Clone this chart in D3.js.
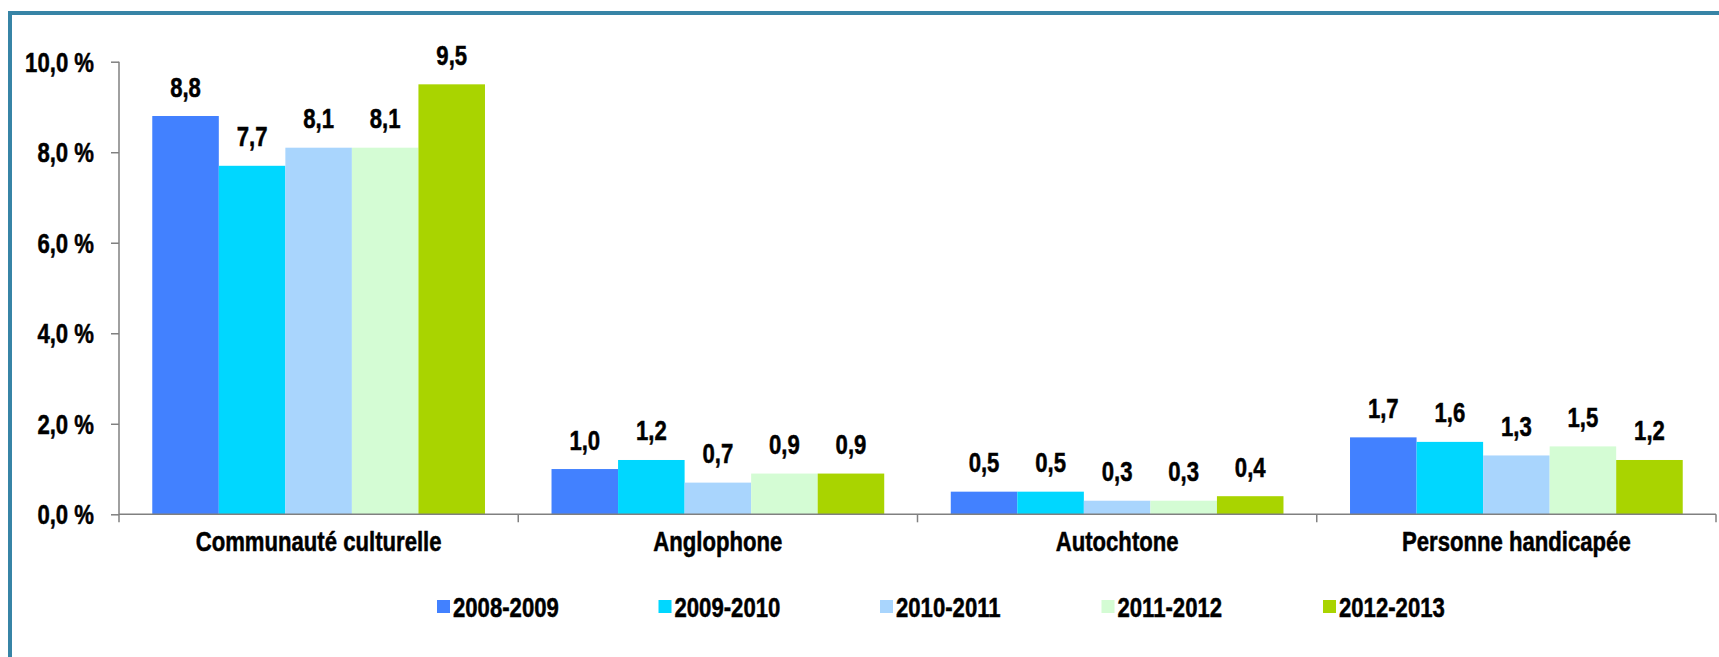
<!DOCTYPE html>
<html lang="fr">
<head>
<meta charset="UTF-8">
<title>Représentation des groupes cibles</title>
<style>
  * { margin: 0; padding: 0; box-sizing: border-box; }
  body { background: #fff; width: 1719px; height: 657px; overflow: hidden; }
  svg { display: block; font-family: 'Liberation Sans', Arial, sans-serif; font-weight: 700; }
  svg text { stroke: #000; stroke-width: 0.5px; }
</style>
</head>
<body>
<svg width="1719" height="657"></svg>
<script src="https://cdn.jsdelivr.net/npm/d3@7/dist/d3.min.js"></script>
<script>
// --- data ---
const categories = ['Communauté culturelle', 'Anglophone', 'Autochtone', 'Personne handicapée'];
const years = ['2008-2009', '2009-2010', '2010-2011', '2011-2012', '2012-2013'];
const values2008 = [8.8, 1.0, 0.5, 1.7];
const values2009 = [7.7, 1.2, 0.5, 1.6];
const values2010 = [8.1, 0.7, 0.3, 1.3];
const values2011 = [8.1, 0.9, 0.3, 1.5];
const values2012 = [9.5, 0.9, 0.4, 1.2];
const yTicks = [0, 2, 4, 6, 8, 10];
const colors = ['#4281ff', '#00d7ff', '#a9d5fd', '#d4fcd4', '#a9d400'];

const series = [values2008, values2009, values2010, values2011, values2012];

const svg = d3.select('svg');
const frFmt = d3.formatLocale({ decimal: ',', thousands: ' ', grouping: [3], currency: ['', ' $'] });
const f1 = frFmt.format('.1f');
const NARROW = 0.82; // fake "Arial Narrow" by squeezing Liberation Sans Bold
const FS = 27;

// text helper: anchored at (x, y), horizontally squeezed
function label(sel, x, y) {
  return sel.attr('transform', (d, i) => `translate(${x(d, i)},${y(d, i)}) scale(${NARROW},1)`);
}

// frame (top + left band)
svg.append('rect').attr('x', 8).attr('y', 11).attr('width', 1711).attr('height', 4).attr('fill', '#3784a6');
svg.append('rect').attr('x', 8).attr('y', 11).attr('width', 4).attr('height', 646).attr('fill', '#3784a6');

const plot = { left: 119, right: 1716, top: 61.7, bottom: 514.3 };

const x0 = d3.scaleBand().domain(categories).range([plot.left, plot.right]);
const x1 = d3.scaleBand().domain(years).range([0, x0.bandwidth()]).paddingInner(0).paddingOuter(0.5);
const y = d3.scaleLinear().domain([0, 10]).range([plot.bottom, plot.top]);

// bars
const groups = svg.append('g').selectAll('g')
  .data(categories)
  .join('g')
  .attr('transform', d => `translate(${x0(d)},0)`);

const rows = (c, ci) => years.map((yr, si) => ({ yr, si, v: series[si][ci] }));

groups.selectAll('rect')
  .data(rows)
  .join('rect')
  .attr('x', d => x1(d.yr))
  .attr('y', d => y(d.v))
  .attr('width', x1.bandwidth())
  .attr('height', d => y(0) - y(d.v))
  .attr('fill', d => colors[d.si]);

groups.selectAll('text')
  .data(rows)
  .join('text')
  .call(label, d => x1(d.yr) + x1.bandwidth() / 2, d => y(d.v) - 19.5)
  .attr('text-anchor', 'middle')
  .attr('font-size', FS)
  .attr('fill', '#000')
  .text(d => f1(d.v));

// y axis
const yAxis = d3.axisLeft(y).tickValues(yTicks).tickSize(8).tickFormat('');
const gy = svg.append('g').attr('transform', `translate(${plot.left},0)`).call(yAxis);
gy.select('.domain').attr('d', `M0,${plot.top}V${plot.bottom}`).attr('stroke', '#808080').attr('stroke-width', 1.5);
gy.selectAll('.tick line').attr('stroke', '#808080').attr('stroke-width', 1.5);
gy.selectAll('text.yl').data(yTicks).join('text').attr('class', 'yl')
  .call(label, () => -25, d => y(d) + 10)
  .attr('text-anchor', 'end')
  .attr('font-size', FS)
  .attr('fill', '#000')
  .text(d => f1(d) + ' %');

// x axis
const gx = svg.append('g').attr('transform', `translate(0,${plot.bottom})`);
gx.append('line').attr('x1', plot.left).attr('x2', plot.right).attr('stroke', '#808080').attr('stroke-width', 1.5);
const bounds = categories.map(c => x0(c)).concat([x0(categories[categories.length - 1]) + x0.bandwidth()]);
gx.selectAll('line.tk').data(bounds).join('line').attr('class', 'tk')
  .attr('x1', d => d).attr('x2', d => d).attr('y1', 0).attr('y2', 8)
  .attr('stroke', '#808080').attr('stroke-width', 1.5);
gx.selectAll('text').data(categories).join('text')
  .call(label, d => x0(d) + x0.bandwidth() / 2, () => 37)
  .attr('text-anchor', 'middle')
  .attr('font-size', FS)
  .attr('fill', '#000')
  .text(d => d);

// legend
const legend = svg.append('g').attr('transform', 'translate(437,600)');
const li = legend.selectAll('g').data(years).join('g')
  .attr('transform', (d, i) => `translate(${i * 221.5},0)`);
li.append('rect').attr('width', 13).attr('height', 13).attr('fill', (d, i) => colors[i]);
li.append('text').call(label, () => 16, () => 17)
  .attr('font-size', FS).attr('fill', '#000').text(d => d);
</script>
</body>
</html>
